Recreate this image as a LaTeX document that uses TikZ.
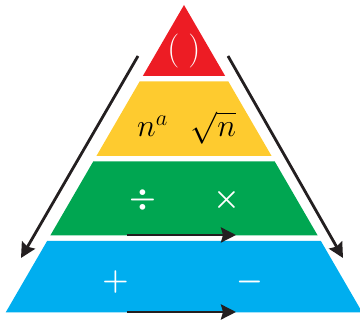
\RequirePackage{fix-cm}
\documentclass[tikz,border=0pt]{standalone}
\usepackage{amsmath,amssymb}
\usepackage{xcolor}
\usepackage{tikz}
\usetikzlibrary{arrows.meta,calc}
\definecolor{bodmasred}{RGB}{237,28,36}
\definecolor{bodmasyellow}{RGB}{254,203,47}
\definecolor{bodmasgreen}{RGB}{0,166,81}
\definecolor{bodmasblue}{RGB}{0,174,239}
\definecolor{inkblack}{RGB}{35,31,32}
\tikzset{
  flow/.style={-{Stealth[length=15pt,width=15pt,inset=2pt]},line width=2.8pt,inkblack},
  opsym/.style={text=white,font=\fontsize{30}{34}\selectfont\boldmath},
}

\begin{document}
\begin{tikzpicture}[x=1pt,y=-1pt]
  \clip (0,0) rectangle (360,323);
  % pyramid: apex at (184,5), sides run 0.58 across per unit down
  \fill[bodmasred] (184,5) -- ({184+0.58*71},76) -- ({184-0.58*71},76) -- cycle;
  \foreach \ytop/\ybot/\col in {81.5/156/bodmasyellow,161.5/235.5/bodmasgreen,241/312.5/bodmasblue}
    \fill[\col] ({184-0.58*(\ytop-5)},\ytop) -- ({184+0.58*(\ytop-5)},\ytop)
      -- ({184+0.58*(\ybot-5)},\ybot) -- ({184-0.58*(\ybot-5)},\ybot) -- cycle;
  % labels of each level
  \node[text=white,font=\fontsize{34}{36}\selectfont] (brackets) at (184,51) {(\kern9pt)};
  \node[font=\fontsize{32}{34}\selectfont,anchor=base] (power) at (152.5,137) {$n^a$};
  \node[font=\fontsize{32}{34}\selectfont,anchor=base] (root) at (213.5,137) {$\sqrt{n}$};
  \node[opsym] (divide) at (143,200) {$\div$};
  \node[opsym] (times) at (226.5,200) {$\times$};
  \node[opsym] (plus) at (115.5,282) {$+$};
  \node[opsym] (minus) at (249.5,282) {$-$};
  % reading directions
  \coordinate (lefttop) at (138,56);
  \coordinate (leftend) at (21,258);
  \coordinate (righttop) at (228,56);
  \coordinate (rightend) at (343,258);
  \coordinate (greenstart) at (127,235);
  \coordinate (greenend) at (236,235);
  \coordinate (bluestart) at (127,312);
  \coordinate (blueend) at (236,312);
  \draw[flow] (lefttop) -- (leftend);
  \draw[flow] (righttop) -- (rightend);
  \draw[flow] (greenstart) -- (greenend);
  \draw[flow] (bluestart) -- (blueend);
\end{tikzpicture}
\end{document}
